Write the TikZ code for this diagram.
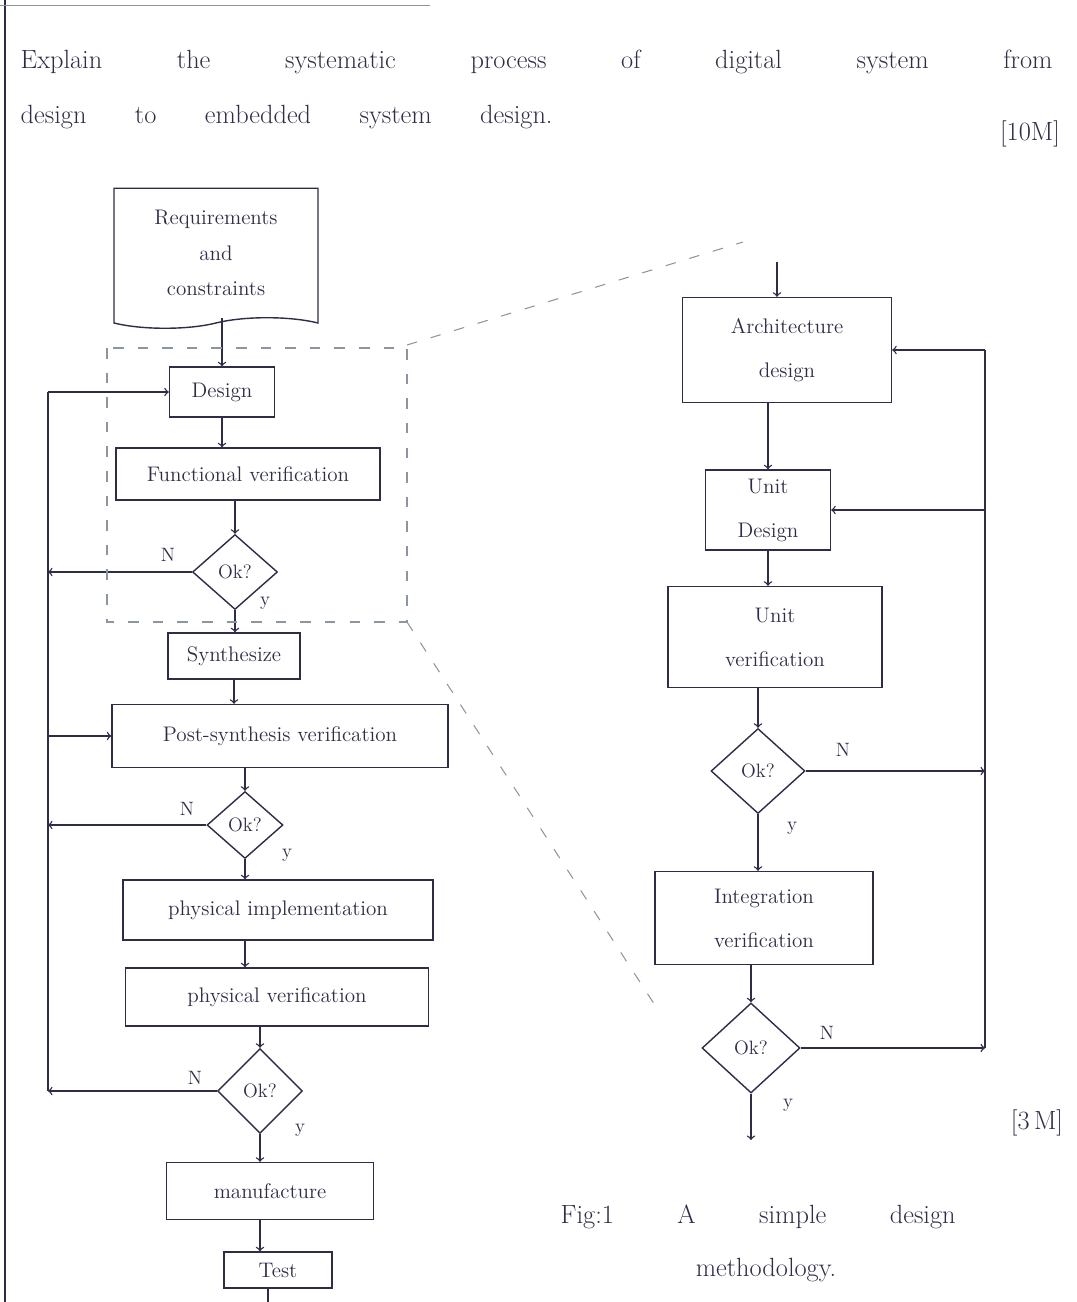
\documentclass[tikz,border=0pt]{standalone}
\usepackage{fontspec}
\usepackage{tikz}
\usetikzlibrary{shapes.geometric,shapes.symbols}
\definecolor{ink}{RGB}{45,45,70}
\definecolor{pencil}{RGB}{140,150,160}

\begin{document}
\begin{tikzpicture}[x=0.02cm,y=-0.02cm,ink,line width=0.8pt,
    box/.style={rectangle, draw, align=center, font=\fontsize{12}{15}\selectfont},
    tallbox/.style={box, font=\fontsize{12}{25}\selectfont},
    okbox/.style={diamond, draw, inner sep=0pt, font=\fontsize{11}{13}\selectfont},
    lbl/.style={font=\fontsize{11}{13}\selectfont},
    title/.style={font=\fontsize{15}{18}\selectfont},
    zoomline/.style={pencil, line width=0.6pt, dash pattern=on 6pt off 8pt}]
      \useasboundingbox (0,0) rectangle (1077,1302);
      \draw (5,0) -- (5,1302);
      \draw[pencil, line width=0.5pt] (0,5) -- (430,5);

      \node at (20,62)    [anchor=west, inner sep=0pt, title] (title1) {\makebox[20.64cm][s]{Explain the systematic process of digital system from}};
      \node at (20,117)   [anchor=west, inner sep=0pt, title] (title2) {\makebox[10.64cm][s]{design to embedded system design.}};
      \node at (1030,134) [title] (marks1) {[10M]};

      % left flow
      \node at (216,253)  [box, tape, tape bend top=none, tape bend bottom=in and out, tape bend height=6pt,
                           font=\fontsize{12}{20}\selectfont, minimum width=4.08cm, minimum height=2.8cm] (req) {Requirements\\and\\constraints};
      \node at (222,392)  [box, minimum width=2.1cm,  minimum height=1cm]    (design)   {Design};
      \node at (248,474)  [box, minimum width=5.28cm, minimum height=1.04cm] (funcver)  {Functional verification};
      \node at (235,572)  [okbox, minimum width=1.7cm, minimum height=1.5cm] (ok1)      {Ok?};
      \node at (234,656)  [box, minimum width=2.64cm, minimum height=0.92cm] (synth)    {Synthesize};
      \node at (280,736)  [box, minimum width=6.72cm, minimum height=1.26cm] (postver)  {Post-synthesis verification};
      \node at (245,825)  [okbox, minimum width=1.52cm, minimum height=1.34cm] (ok2)    {Ok?};
      \node at (278,910)  [box, minimum width=6.2cm,  minimum height=1.2cm]  (physimpl) {physical implementation};
      \node at (277,997)  [box, minimum width=6.06cm, minimum height=1.16cm] (physver)  {physical verification};
      \node at (260,1091) [okbox, minimum width=1.7cm, minimum height=1.7cm] (ok3)      {Ok?};
      \node at (270,1191) [box, minimum width=4.14cm, minimum height=1.14cm] (manuf)    {manufacture};
      \node at (278,1270) [box, minimum width=2.16cm, minimum height=0.72cm] (test)     {Test};
      \coordinate (testout) at (268,1302);

      \draw[->] (design |- req.south)       -- (design.north);
      \draw[->] (design.south)              -- (design.south |- funcver.north);
      \draw[->] (ok1.north |- funcver.south) -- (ok1.north);
      \draw[->] (ok1.south)                 -- (ok1.south |- synth.north);
      \draw[->] (synth.south)               -- (synth.south |- postver.north);
      \draw[->] (ok2.north |- postver.south) -- (ok2.north);
      \draw[->] (ok2.south)                 -- (ok2.south |- physimpl.north);
      \draw[->] (physimpl.south -| ok2.south) -- (physver.north -| ok2.south);
      \draw[->] (ok3.north |- physver.south) -- (ok3.north);
      \draw[->] (ok3.south)                 -- (ok3.south |- manuf.north);
      \draw[->] (manuf.south -| ok3.south)  -- (test.north -| ok3.south);
      \draw     (test.south -| testout)     -- (testout);

      % feedback on the left
      \coordinate (fbx) at (48,0);
      \draw[->] (ok1.west) -- (ok1.west -| fbx);
      \draw[->] (ok2.west) -- (ok2.west -| fbx);
      \draw[->] (ok3.west) -- (ok3.west -| fbx);
      \draw     (ok3.west -| fbx) -- (design.west -| fbx);
      \draw[->] (design.west -| fbx)  -- (design.west);
      \draw[->] (postver.west -| fbx) -- (postver.west);

      \node at (168,555)  [lbl] (n1) {N};
      \node at (265,603)  [lbl] (y1) {y};
      \node at (187,809)  [lbl] (n2) {N};
      \node at (287,855)  [lbl] (y2) {y};
      \node at (195,1078) [lbl] (n3) {N};
      \node at (300,1130) [lbl] (y3) {y};

      % zoomed part
      \draw[zoomline] (107,348) rectangle (407,622);
      \draw[zoomline] (407,345) -- (743,242);
      \draw[zoomline] (407,622) -- (660,1013);

      % right flow
      \node at (787,350)  [tallbox, minimum width=4.18cm, minimum height=2.1cm]  (arch)    {Architecture\\design};
      \node at (768,510)  [tallbox, minimum width=2.5cm,  minimum height=1.6cm]  (unitdes) {Unit\\Design};
      \node at (775,637)  [tallbox, minimum width=4.28cm, minimum height=2.02cm] (unitver) {Unit\\verification};
      \node at (758,771)  [okbox, minimum width=1.88cm, minimum height=1.7cm]    (ok4)     {Ok?};
      \node at (764,918)  [tallbox, minimum width=4.36cm, minimum height=1.86cm] (integ)   {Integration\\verification};
      \node at (751,1048) [okbox, minimum width=1.96cm, minimum height=1.8cm]    (ok5)     {Ok?};
      \coordinate (archin) at (777,262);
      \coordinate (ok5out) at (751,1140);
      \coordinate (rx) at (985,0);

      \draw[->] (archin)                    -- (archin |- arch.north);
      \draw[->] (unitdes.north |- arch.south) -- (unitdes.north);
      \draw[->] (unitdes.south)             -- (unitdes.south |- unitver.north);
      \draw[->] (ok4.north |- unitver.south) -- (ok4.north);
      \draw[->] (ok4.south)                 -- (ok4.south |- integ.north);
      \draw[->] (ok5.north |- integ.south)  -- (ok5.north);
      \draw[->] (ok5.south)                 -- (ok5out);

      \draw[->] (ok4.east) -- (ok4.east -| rx);
      \draw[->] (ok5.east) -- (ok5.east -| rx);
      \draw     (ok5.east -| rx)  -- (arch.east -| rx);
      \draw[->] (arch.east -| rx) -- (arch.east);
      \draw[->] (unitdes.east -| rx) -- (unitdes.east);

      \node at (843,750)  [lbl] (n4) {N};
      \node at (792,828)  [lbl] (y4) {y};
      \node at (827,1033) [lbl] (n5) {N};
      \node at (788,1105) [lbl] (y5) {y};

      \node at (1037,1123) [title] (marks2) {[3\,M]};
      \node at (560,1217)  [anchor=west, inner sep=0pt, title] (cap1) {\makebox[7.9cm][s]{Fig:1 A simple design}};
      \node at (766,1270)  [title] (cap2) {methodology.};
    \end{tikzpicture}
\end{document}
